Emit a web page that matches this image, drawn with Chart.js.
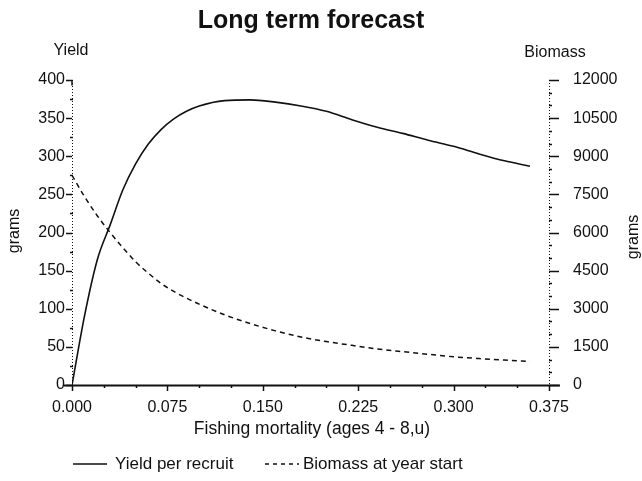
<!DOCTYPE html>
<html>
<head>
<meta charset="utf-8">
<script src="https://cdn.jsdelivr.net/npm/chart.js@4"></script>
<style>
  html, body { margin: 0; padding: 0; background: #fff; }
  #wrap { width: 642px; height: 481px; }
</style>
</head>
<body>
<div id="wrap"><canvas id="myChart" width="642" height="481"></canvas></div>
<script>
// fishing mortality (x)
const mortality = [0, 0.01, 0.02, 0.03, 0.04, 0.05, 0.06, 0.07, 0.08, 0.09, 0.10,
  0.12, 0.14, 0.16, 0.18, 0.20, 0.22, 0.24, 0.26, 0.28, 0.30, 0.32, 0.34, 0.36];
// yield per recruit (left axis, grams)
const yieldPerRecruit = [0, 92, 165, 210, 256, 290, 316, 335, 349, 359, 366,
  373, 374, 371, 366, 359, 348, 338, 330, 321, 313, 303, 294, 287];
// biomass at year start (right axis, grams)
const biomass = [8250, 7400, 6650, 6000, 5400, 4850, 4400, 4000, 3680, 3420, 3180,
  2760, 2420, 2130, 1890, 1710, 1560, 1420, 1310, 1210, 1110, 1040, 980, 925];

const xTicks = [0, 0.075, 0.15, 0.225, 0.3, 0.375];

const FONT = "'Liberation Sans', Arial, sans-serif";
const ctx = document.getElementById("myChart").getContext("2d");

const extras = {
  id: "extras",
  afterDraw(chart) {
    const c = chart.ctx;
    const ca = chart.chartArea;
    const x = chart.scales.x, y = chart.scales.y, y1 = chart.scales.y1;
    c.save();
    c.strokeStyle = "#111";

    // side axes, faint dotted like the scan
    c.lineWidth = 1;
    c.setLineDash([1, 2]);
    c.beginPath();
    c.moveTo(ca.left + 0.5, ca.top); c.lineTo(ca.left + 0.5, ca.bottom);
    c.moveTo(ca.right + 0.5, ca.top); c.lineTo(ca.right + 0.5, ca.bottom);
    c.stroke();
    c.setLineDash([]);

    // left ticks
    c.lineWidth = 1.5;
    for (let v = 0; v <= 400; v += 25) {
      const py = Math.round(y.getPixelForValue(v)) + 0.5;
      c.beginPath();
      if (v % 50 === 0) {
        c.moveTo(ca.left - 6, py); c.lineTo(ca.left, py);
        if (v === 400) c.lineTo(ca.left, py + 5);
      } else {
        c.moveTo(ca.left - 2, py); c.lineTo(ca.left + 1, py);
      }
      c.stroke();
    }
    // right ticks
    for (let v = 0; v <= 12000; v += 500) {
      const py = Math.round(y1.getPixelForValue(v)) + 0.5;
      c.beginPath();
      if (v % 1500 === 0) {
        c.moveTo(ca.right, py); c.lineTo(ca.right + 10, py);
      } else {
        c.moveTo(ca.right, py); c.lineTo(ca.right + 3, py);
      }
      c.stroke();
    }
    // bottom ticks
    for (let i = 0; i <= 15; i++) {
      const px = Math.round(x.getPixelForValue(i * 0.025)) + 0.5;
      c.beginPath();
      c.moveTo(px, ca.bottom);
      c.lineTo(px, ca.bottom + (i % 3 === 0 ? 6 : 3));
      c.stroke();
    }
    // bottom axis
    c.lineWidth = 2.2;
    c.beginPath();
    c.moveTo(ca.left - 8, ca.bottom + 0.5); c.lineTo(ca.right + 11, ca.bottom + 0.5);
    c.stroke();

    // texts
    c.fillStyle = "#111";
    c.textBaseline = "middle";
    c.textAlign = "center";
    c.font = "bold 25px " + FONT;
    c.fillText("Long term forecast", 311, 21);
    c.font = "16px " + FONT;
    c.fillText("Yield", 71, 51);
    c.fillText("Biomass", 555, 53);
    c.font = "17.5px " + FONT;
    c.fillText("Fishing mortality (ages 4 - 8,u)", 312, 429);

    c.font = "16px " + FONT;
    c.save();
    c.translate(15, 231);
    c.rotate(-Math.PI / 2);
    c.fillText("grams", 0, 0);
    c.restore();
    c.save();
    c.translate(634, 237);
    c.rotate(-Math.PI / 2);
    c.fillText("grams", 0, 0);
    c.restore();

    // legend
    const ly = 464;
    c.lineWidth = 1.5;
    c.beginPath();
    c.moveTo(73, ly); c.lineTo(107, ly);
    c.stroke();
    c.setLineDash([4, 4]);
    c.beginPath();
    c.moveTo(265, ly); c.lineTo(299, ly);
    c.stroke();
    c.setLineDash([]);
    c.textAlign = "left";
    c.font = "17px " + FONT;
    c.fillText("Yield per recruit", 115, ly);
    c.fillText("Biomass at year start", 303, ly);
    c.restore();
  }
};

const data = {
  datasets: [
    {
      label: "Yield per recruit",
      data: mortality.map((m, i) => ({ x: m, y: yieldPerRecruit[i] })),
      yAxisID: "y",
      borderColor: "#111",
      borderWidth: 1.6,
      pointRadius: 0,
      cubicInterpolationMode: "monotone",
    },
    {
      label: "Biomass at year start",
      data: mortality.map((m, i) => ({ x: m, y: biomass[i] })),
      yAxisID: "y1",
      borderColor: "#111",
      borderWidth: 1.5,
      borderDash: [5, 4],
      pointRadius: 0,
      cubicInterpolationMode: "monotone",
    },
  ],
};

const config = {
  type: "line",
  data: data,
  options: {
    responsive: false,
    animation: false,
    layout: { padding: { top: 80, left: 0, right: 0, bottom: 0 } },
    plugins: { legend: { display: false }, tooltip: { enabled: false } },
    scales: {
      x: {
        type: "linear",
        min: 0,
        max: 0.375,
        afterBuildTicks: (s) => { s.ticks = xTicks.map((v) => ({ value: v })); },
        afterFit: (s) => { s.height = 96; },
        ticks: {
          callback: (v) => Number(v).toFixed(3),
          font: { family: FONT, size: 16 },
          color: "#111",
          padding: 13,
          maxRotation: 0,
          autoSkip: false,
        },
        grid: { display: false, drawTicks: false },
        border: { display: false },
      },
      y: {
        position: "left",
        min: 0,
        max: 400,
        afterFit: (s) => { s.width = 72; },
        ticks: {
          stepSize: 50,
          callback: (v) => String(v),
          font: { family: FONT, size: 16 },
          color: "#111",
          padding: 7,
        },
        grid: { display: false, drawTicks: false },
        border: { display: false },
      },
      y1: {
        position: "right",
        min: 0,
        max: 12000,
        afterFit: (s) => { s.width = 93; },
        ticks: {
          stepSize: 1500,
          callback: (v) => String(v),
          font: { family: FONT, size: 16 },
          color: "#111",
          padding: 24,
        },
        grid: { display: false, drawTicks: false },
        border: { display: false },
      },
    },
  },
  plugins: [extras],
};

const myChart = new Chart(ctx, config);
</script>
</body>
</html>
